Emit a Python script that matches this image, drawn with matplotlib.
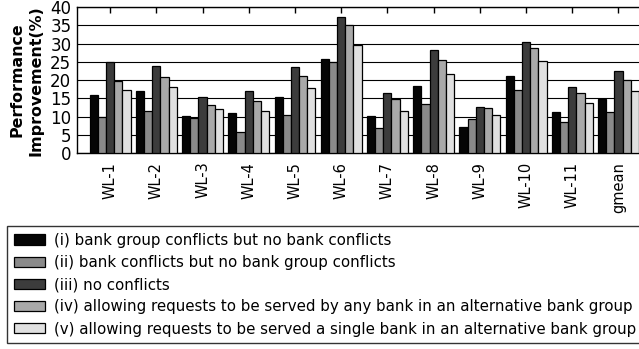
import numpy as np
import matplotlib
matplotlib.use('Agg')
import matplotlib.pyplot as plt

workloads = ['WL-1', 'WL-2', 'WL-3', 'WL-4', 'WL-5', 'WL-6',
             'WL-7', 'WL-8', 'WL-9', 'WL-10', 'WL-11', 'gmean']

# performance improvement (%) per configuration
bg_conf_only = [15.9, 17.1, 10.2, 11.0, 15.3, 25.8, 10.3, 18.5, 7.3, 21.0, 11.4, 14.8]
bank_conf_only = [9.8, 11.7, 9.7, 5.7, 10.5, 25.0, 7.0, 13.6, 9.3, 17.2, 8.6, 11.4]
no_conf = [24.9, 23.9, 15.3, 16.9, 23.7, 37.2, 16.6, 28.2, 12.6, 30.4, 18.2, 22.4]
any_bank = [19.8, 20.9, 13.3, 14.2, 21.2, 35.2, 14.8, 25.6, 12.4, 28.9, 16.6, 20.0]
single_bank = [17.4, 18.0, 12.1, 11.7, 17.8, 29.5, 11.7, 21.8, 10.6, 25.2, 13.8, 17.0]

series = [bg_conf_only, bank_conf_only, no_conf, any_bank, single_bank]
labels = ['(i) bank group conflicts but no bank conflicts',
          '(ii) bank conflicts but no bank group conflicts',
          '(iii) no conflicts',
          '(iv) allowing requests to be served by any bank in an alternative bank group',
          '(v) allowing requests to be served a single bank in an alternative bank group']
colors = ['#050505', '#8a8a8a', '#3c3c3c', '#a9a9a9', '#e0e0e0']

fig = plt.figure(figsize=(6.39, 3.49), dpi=100)
W, H = 639, 349
# axes run past the right edge like in the original crop
ax = fig.add_axes([77.3 / W, 1 - 153.3 / H, 574 / W, 146.3 / H])

x = np.arange(len(workloads))
bw = 0.177
for i, (vals, c, lab) in enumerate(zip(series, colors, labels)):
    ax.bar(x + (i - 2) * bw, vals, bw, color=c, edgecolor='black',
           linewidth=0.9, label=lab, zorder=3)

ax.set_xlim(-0.71, 11.71)
ax.set_ylim(0, 40)
ax.set_yticks(range(0, 41, 5))
ax.yaxis.grid(True, color='black', lw=0.8, zorder=0)
ax.tick_params(axis='y', length=0, pad=4.3, labelsize=12)
ax.set_xticks(x)
ax.set_xticklabels(workloads, rotation=90, fontsize=10.5)
ax.tick_params(axis='x', bottom=False, top=True, direction='in', length=4,
               width=1, pad=6)
for s in ax.spines.values():
    s.set_linewidth(1.0)
ax.set_ylabel('Performance\nImprovement(%)', fontsize=11.4, fontweight='bold',
              linespacing=1.3, labelpad=5)

leg = fig.legend(loc='upper left', bbox_to_anchor=(7 / W, 1 - 226 / H),
                 borderaxespad=0, fontsize=10.8, frameon=True, fancybox=False,
                 edgecolor='black', handlelength=2.05, handleheight=0.67,
                 labelspacing=0.48, handletextpad=0.65, borderpad=0.45)
leg.get_frame().set_linewidth(1.0)

plt.savefig('out.png', dpi=100, facecolor='white')
